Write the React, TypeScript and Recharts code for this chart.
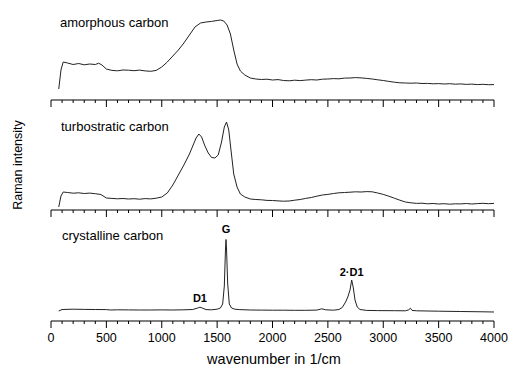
import {LineChart, Line, XAxis, YAxis, ReferenceDot} from "recharts";

// amorphous carbon
const amWave = [70, 90, 110, 150, 200, 250, 300, 350, 400, 430, 460, 500, 550, 600, 650, 700, 750, 800, 850, 900, 950, 1000, 1050, 1100, 1150, 1200, 1250, 1300, 1350, 1400, 1450, 1500, 1530, 1560, 1590, 1620, 1650, 1680, 1710, 1750, 1800, 1850, 1900, 1950, 2000, 2050, 2100, 2150, 2200, 2250, 2300, 2350, 2400, 2450, 2500, 2550, 2600, 2650, 2700, 2750, 2800, 2850, 2900, 2950, 3000, 3050, 3100, 3150, 3200, 3250, 3300, 3350, 3400, 3450, 3500, 3550, 3600, 3650, 3700, 3750, 3800, 3850, 3900, 3950, 4000];
const amInt = [11, 30, 38, 37, 35.5, 36.5, 35.2, 36, 35.5, 36.8, 35, 31, 29.6, 29.2, 30, 29.8, 29.3, 29.9, 29.1, 28.7, 29.6, 33, 38, 44, 50, 57, 65, 73, 77, 78, 78.6, 79.5, 80, 79, 75, 66, 50, 36, 29, 25, 22, 21, 20.5, 20.8, 20, 20.4, 19.5, 19.2, 19.8, 19.4, 19.9, 20.3, 20, 20.8, 21, 21.4, 21.2, 21.9, 22, 22.4, 22.1, 21.6, 21, 20.2, 19.5, 18.6, 17.8, 17.2, 17, 16.8, 17, 16.5, 16.6, 16.2, 16.4, 16, 16.3, 15.8, 16.1, 15.6, 15.9, 15.4, 15.7, 15.3, 15.4];

// turbostratic carbon
const tuWave = [70, 90, 110, 150, 200, 250, 300, 350, 400, 450, 500, 550, 600, 650, 700, 750, 800, 850, 900, 950, 1000, 1050, 1100, 1150, 1200, 1250, 1280, 1310, 1335, 1360, 1390, 1420, 1450, 1480, 1510, 1540, 1565, 1585, 1605, 1625, 1650, 1680, 1710, 1750, 1800, 1850, 1900, 1950, 2000, 2050, 2100, 2150, 2200, 2250, 2300, 2350, 2400, 2450, 2500, 2550, 2600, 2650, 2700, 2750, 2800, 2850, 2900, 2950, 3000, 3050, 3100, 3150, 3200, 3250, 3300, 3350, 3400, 3450, 3500, 3550, 3600, 3650, 3700, 3750, 3800, 3850, 3900, 3950, 4000];
const tuInt = [3, 14, 18, 17.5, 16.8, 17.2, 16.5, 16.9, 16.3, 15.5, 12, 11.6, 11.2, 11.5, 11, 11.3, 10.8, 11.4, 11.1, 11.8, 13, 17, 25, 35, 45, 56, 64, 72, 76, 73, 64, 57, 52.5, 52, 55, 68, 83, 88, 80, 60, 36, 23, 16, 13, 11, 10.5, 10.2, 9.6, 9.5, 9.1, 8.8, 9, 9.8, 10.5, 11.6, 12.5, 13.8, 15, 15.6, 16.5, 17.2, 17.5, 17.8, 18.2, 18, 18.4, 18.2, 17, 15.6, 13.8, 11.8, 9.8, 8, 7.2, 6.6, 6.8, 6.2, 6.5, 6, 6.3, 5.8, 6.2, 6.1, 6.5, 6, 6.4, 6.7, 6.3, 6.6];

// crystalline carbon
const crWave = [70, 100, 200, 300, 400, 500, 540, 600, 700, 800, 900, 1000, 1100, 1200, 1280, 1320, 1345, 1370, 1400, 1450, 1500, 1530, 1550, 1565, 1575, 1580, 1585, 1595, 1610, 1630, 1660, 1700, 1800, 1900, 2000, 2100, 2200, 2300, 2400, 2445, 2480, 2550, 2600, 2630, 2660, 2680, 2700, 2715, 2730, 2745, 2765, 2790, 2850, 2950, 3100, 3200, 3230, 3245, 3260, 3300, 3500, 3700, 3900, 4000];
const crInt = [10, 11.5, 11.8, 11.6, 11.5, 11.4, 11, 11.2, 11.1, 11, 11, 11.1, 11, 11.2, 11.5, 12.8, 13.8, 12.8, 11.4, 11.2, 11.8, 13, 17, 35, 70, 81.5, 72, 38, 17, 13, 11.8, 11.4, 11, 10.9, 10.8, 10.8, 10.7, 10.7, 10.9, 12.2, 11.2, 10.8, 11.5, 13.5, 19, 24, 31, 41, 33, 21, 14, 11.5, 10.6, 10.4, 10.3, 10.2, 11.2, 12.8, 10.6, 10.2, 9.8, 9.5, 9.2, 9];

const xTicks = Array.from({length: 41}, (_, i) => i * 100);

const toRows = (wave: number[], vals: number[]) => wave.map((w, i) => ({w, v: vals[i]}));

const FONT = "'Liberation Sans', Arial, sans-serif";

function Tick(props: any) {
    const {x, y, payload, showLabel} = props;
    const major = payload.value % 500 === 0;
    return (
        <g>
            <line x1={x} x2={x} y1={y} y2={y + (major ? 7 : 3)} stroke="#000" strokeWidth={1}/>
            {showLabel && major && (
                <text x={x} y={y + 21} textAnchor="middle" fontSize={12.5} fontFamily={FONT} fill="#000">
                    {payload.value}
                </text>
            )}
        </g>
    );
}

interface PanelProps {
    top: number;
    height: number;
    axisHeight: number;
    ymax: number;
    rows: {w: number; v: number}[];
    bottom?: boolean;
    children?: any;
}

function Panel({top, height, axisHeight, ymax, rows, bottom, children}: PanelProps) {
    return (
        <div style={{position: "absolute", left: 0, top}}>
            <LineChart width={508} height={height} data={rows} margin={{top: 10, right: 14, left: 51, bottom: 0}}>
                <XAxis
                    dataKey="w"
                    type="number"
                    domain={[0, 4000]}
                    ticks={xTicks}
                    interval={0}
                    height={axisHeight}
                    tickSize={0}
                    tickMargin={0}
                    tickLine={false}
                    axisLine={{stroke: "#000", strokeWidth: 1}}
                    tick={<Tick showLabel={!!bottom}/>}
                />
                <YAxis
                    type="number"
                    domain={[0, ymax]}
                    width={0}
                    tick={false}
                    tickLine={false}
                    axisLine={{stroke: "#000", strokeWidth: 1}}
                />
                <Line
                    dataKey="v"
                    type="linear"
                    stroke="#222"
                    strokeWidth={1}
                    dot={false}
                    isAnimationActive={false}
                />
                {children}
            </LineChart>
        </div>
    );
}

const peakLabel = (value: string, offset: number) => ({
    value,
    position: "top" as const,
    offset,
    fontSize: 11,
    fontWeight: "bold",
    fontFamily: FONT,
    fill: "#000",
});

export default function App() {
    return (
        <div style={{position: "absolute", left: 0, top: 0, width: 508, height: 367, background: "#fff"}}>
            <Panel top={0} height={112} axisHeight={12} ymax={90} rows={toRows(amWave, amInt)}/>
            <Panel top={112} height={110} axisHeight={12} ymax={88} rows={toRows(tuWave, tuInt)}/>
            <Panel top={222} height={145} axisHeight={46} ymax={89} rows={toRows(crWave, crInt)} bottom>
                <ReferenceDot x={1345} y={13.8} r={0} stroke="none" label={peakLabel("D1", 5)}/>
                <ReferenceDot x={1580} y={81.5} r={0} stroke="none" label={peakLabel("G", 7)}/>
                <ReferenceDot x={2715} y={41} r={0} stroke="none" label={peakLabel("2·D1", 4)}/>
            </Panel>
            <svg width={508} height={367} style={{position: "absolute", left: 0, top: 0, pointerEvents: "none"}}>
                <g fontFamily={FONT} fill="#000">
                    <text x={60} y={27} fontSize={13}>amorphous carbon</text>
                    <text x={61} y={131} fontSize={13}>turbostratic carbon</text>
                    <text x={62} y={240} fontSize={13}>crystalline carbon</text>
                    <text x={274} y={364} fontSize={14.5} textAnchor="middle">wavenumber in 1/cm</text>
                    <text x={22} y={165} fontSize={12.5} textAnchor="middle" transform="rotate(-90 22 165)">Raman intensity</text>
                </g>
            </svg>
        </div>
    );
}
